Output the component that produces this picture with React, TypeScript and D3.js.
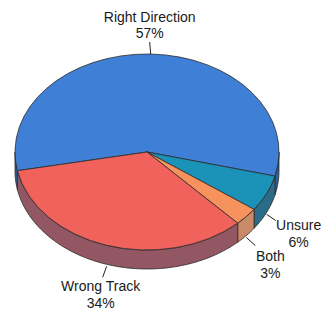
import React, { useEffect } from "react";
import * as d3 from "d3";

// slice order as drawn, clockwise from the left edge
const categories = ["Right Direction", "Unsure", "Both", "Wrong Track"];
const values = [57, 6, 3, 34];
const labels = ["57%", "6%", "3%", "34%"];

const topColors = ["#3f80d6", "#1b92b8", "#f6925c", "#f1625d"];
const sideColors = ["#2f5f9f", "#2b6c89", "#c98a68", "#925762"];

// leader line direction + text placement, per slice
const leaders = [
  { dx: -1, dy: -12, tx: 0, ty: -4, anchor: "middle" },
  { dx: 9, dy: 6, tx: 23, ty: 10, anchor: "middle" },
  { dx: 9, dy: 8, tx: 15, ty: 15, anchor: "middle" },
  { dx: -4, dy: 11, tx: -2, ty: 14, anchor: "middle" },
];

const W = 328;
const H = 316;
const cx = 147;
const cy = 152;
const rx = 132;
const ry = 98;
const depth = 19;
const startDeg = 259;

const ept = (theta: number, dy = 0): [number, number] => [
  cx + rx * Math.cos(theta),
  cy + ry * Math.sin(theta) + dy,
];

function sidePath(a0: number, a1: number) {
  const p = d3.path();
  const n = Math.max(4, Math.ceil(((a1 - a0) * 180) / Math.PI));
  for (let i = 0; i <= n; i++) {
    const [x, y] = ept(a0 + ((a1 - a0) * i) / n);
    if (i === 0) p.moveTo(x, y);
    else p.lineTo(x, y);
  }
  for (let i = n; i >= 0; i--) {
    const [x, y] = ept(a0 + ((a1 - a0) * i) / n, depth);
    p.lineTo(x, y);
  }
  p.closePath();
  return p.toString();
}

export default function App() {
  useEffect(() => {
    document.body.style.margin = "0";
  }, []);

  const start = (startDeg * Math.PI) / 180;
  const arcs = d3
    .pie<number>()
    .sort(null)
    .startAngle(start)
    .endAngle(start + Math.PI * 2)(values);

  const arcGen = d3.arc<d3.PieArcDatum<number>>().innerRadius(0).outerRadius(rx);

  // visible side walls: screen angle in [0, PI] (mod 2PI)
  const sides: { i: number; d: string }[] = [];
  arcs.forEach((a, i) => {
    const s0 = a.startAngle - Math.PI / 2;
    const s1 = a.endAngle - Math.PI / 2;
    [0, Math.PI * 2].forEach((off) => {
      const lo = Math.max(s0, off);
      const hi = Math.min(s1, off + Math.PI);
      if (hi > lo) sides.push({ i, d: sidePath(lo, hi) });
    });
  });

  return (
    <svg width={W} height={H} style={{ display: "block", background: "#fff" }}>
      <g stroke="#2a2a2a" strokeWidth={0.8} strokeLinejoin="round">
        {sides.map((s, k) => (
          <path key={"s" + k} d={s.d} fill={sideColors[s.i]} />
        ))}
        <g transform={`translate(${cx},${cy}) scale(1,${ry / rx})`}>
          {arcs.map((a, i) => (
            <path
              key={categories[i]}
              d={arcGen(a) || ""}
              fill={topColors[i]}
              vectorEffect="non-scaling-stroke"
            />
          ))}
        </g>
      </g>
      <g fontFamily="Liberation Sans, Arial, sans-serif" fontSize={14} fill="#1a1a1a">
        {arcs.map((a, i) => {
          const mid = (a.startAngle + a.endAngle) / 2 - Math.PI / 2;
          const sm = ((mid % (Math.PI * 2)) + Math.PI * 2) % (Math.PI * 2);
          const [x0, y0] = ept(mid, sm < Math.PI ? depth + 2 : 0);
          const L = leaders[i];
          const x1 = x0 + L.dx;
          const y1 = y0 + L.dy;
          const tx = x1 + L.tx;
          const ty = y1 + L.ty;
          const up = L.dy < 0;
          return (
            <g key={"l" + i}>
              <line x1={x0} y1={y0} x2={x1} y2={y1} stroke="#222" strokeWidth={1} />
              <text x={tx} y={up ? ty - 16 : ty} textAnchor={L.anchor}>
                {categories[i]}
              </text>
              <text x={tx} y={up ? ty : ty + 17} textAnchor={L.anchor}>
                {labels[i]}
              </text>
            </g>
          );
        })}
      </g>
    </svg>
  );
}
